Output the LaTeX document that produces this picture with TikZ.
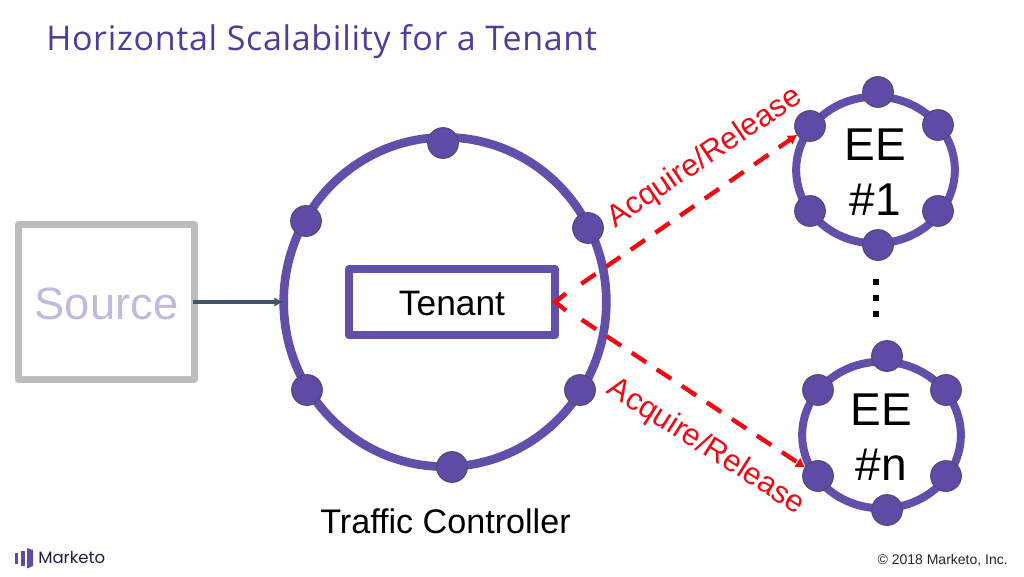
\documentclass[tikz,border=0pt]{standalone}
\usepackage{fontspec}
\usetikzlibrary{shapes.geometric,arrows.meta,calc}
\setmainfont{Liberation Sans}
\newfontfamily\titlefont[LetterSpace=2.0]{Open Sans}
\newfontfamily\brandfont{Poppins}
\definecolor{mkpurple}{HTML}{624FA9}
\definecolor{mkdot}{HTML}{5F4BA6}
\definecolor{mkdotedge}{HTML}{4F4A78}
\definecolor{mktitle}{HTML}{4F3D9C}
\definecolor{mksource}{HTML}{BFBBDD}
\definecolor{mkgray}{HTML}{BDBDBD}
\definecolor{mkarrow}{HTML}{44546A}
\definecolor{mknavy}{HTML}{1E1E4A}
\definecolor{mkred}{HTML}{EE0A12}
\tikzset{
  x=0.75pt,y=-0.75pt,
  ring/.style={draw=mkpurple,line width=6.5pt,ellipse,inner sep=0pt,outer sep=0pt},
  dot/.style={circle,draw=mkdotedge,line width=0.8pt,fill=mkdot,minimum size=23pt,inner sep=0pt,outer sep=0pt},
  redlink/.style={draw=mkred,line width=3.3pt,dash pattern=on 13pt off 9.5pt,shorten <=24pt,-{Latex[length=7pt,width=8.5pt]}},
  barbline/.style={draw=mkred,line width=3.3pt,miter limit=10},
  redlabel/.style={text=mkred,font=\fontsize{23.2}{26}\selectfont,inner sep=0pt},
  plain/.style={text=black,inner sep=0pt},
  eetext/.style={plain,align=center,font=\fontsize{34.5}{41}\selectfont},
}
\begin{document}
\begin{tikzpicture}
\useasboundingbox (0,0) rectangle (1024,576);
\node[anchor=base west,text=mktitle,inner sep=0pt,font=\titlefont\fontsize{25.5}{30}\selectfont] (title) at (46,50) {Horizontal Scalability for a Tenant};
% source
\node[draw=mkgray,line width=5.4pt,line join=round,minimum width=132pt,minimum height=116pt,inner sep=0pt,outer sep=0pt,text=mksource,text height=27pt,font=\fontsize{34}{40}\selectfont] (source) at (106.5,302) {Source};
% traffic controller
\node[ring,minimum width=242pt,minimum height=247pt] (tc) at (445,302) {};
\node[dot] (a1) at (443,143) {};
\node[dot] (a2) at (306,221) {};
\node[dot] (a3) at (588,228) {};
\node[dot] (a4) at (307,390) {};
\node[dot] (a5) at (580,390) {};
\node[dot] (a6) at (452,467) {};
\node[draw=mkpurple,line width=6pt,line join=round,minimum width=154.5pt,minimum height=50pt,inner sep=0pt,outer sep=0pt,text height=21pt,font=\fontsize{26.5}{30}\selectfont] (tenant) at (452,302) {Tenant};
\node[plain,font=\fontsize{25.6}{30}\selectfont] (tclabel) at (445.5,521) {Traffic Controller};
% EE 1
\node[ring,line width=6pt,minimum width=119pt,minimum height=110pt] (ee1) at (875.5,170) {};
\node[eetext] (ee1t) at (875,172) {EE\\\#1};
\node[dot] (b1) at (878,92) {};
\node[dot] (b2) at (810,126) {};
\node[dot] (b3) at (938,125) {};
\node[dot] (b4) at (810,211) {};
\node[dot] (b5) at (938,211) {};
\node[dot] (b6) at (878,245) {};
% EE n
\node[ring,line width=6pt,minimum width=119pt,minimum height=110pt] (een) at (881.5,435) {};
\node[eetext] (eent) at (881,437) {EE\\\#n};
\node[dot] (c1) at (887,356) {};
\node[dot] (c2) at (818,390) {};
\node[dot] (c3) at (946,390) {};
\node[dot] (c4) at (818,476) {};
\node[dot] (c5) at (946,476) {};
\node[dot] (c6) at (887,510) {};
% vertical dots
\fill[black] (873,279) rectangle (879,285);
\fill[black] (873,295) rectangle (879,301);
\fill[black] (873,311) rectangle (879,317);
% connectors
\draw[mkarrow,line width=2.6pt,-{Latex[length=7pt,width=7pt]},shorten <=-1pt] (source.east) -- (tc.west);
\draw[redlink] (tenant.east) -- (b2);
\draw[redlink] (tenant.east) -- (c4);
\draw[barbline] ($(tenant.east)+(11,-8.5)$) -- (tenant.east) -- ($(tenant.east)+(11,8.5)$);
% labels
\node[redlabel,rotate=34] (l1) at (705,158) {Acquire/Release};
\node[redlabel,rotate=-32.4] (l2) at (706,447) {Acquire/Release};
% footer
\node[anchor=base east,inner sep=0pt,font=\fontsize{10.5}{12}\selectfont,text=black!85] (copy) at (1008,564) {© 2018 Marketo, Inc.};
\fill[mkdot] (14.5,552.5) rectangle (18,563.5);
\fill[mkdot] (20.5,550.5) rectangle (25,565.5);
\fill[mkdot] (27,548) -- (33,550) -- (33,566) -- (27,568.5) -- cycle;
\node[anchor=base west,inner sep=0pt,text=mknavy,font=\brandfont\fontsize{12.4}{16}\selectfont] (brand) at (38,563.5) {Marketo};
\end{tikzpicture}
\end{document}
